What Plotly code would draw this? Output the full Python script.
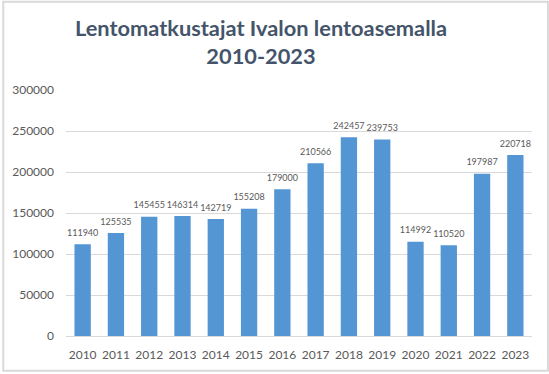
import plotly.graph_objects as go

years = ["2010", "2011", "2012", "2013", "2014", "2015", "2016", "2017", "2018", "2019", "2020", "2021", "2022", "2023"]
passengers = [111940, 125535, 145455, 146314, 142719, 155208, 179000, 210566, 242457, 239753, 114992, 110520, 197987, 220718]
y_ticks = [0, 50000, 100000, 150000, 200000, 250000, 300000]

W, H = 549, 374
ml, mr, mt, mb = 64, 17, 90, 36
pw, ph = W - ml - mr, H - mt - mb
FONT = "Lato, Carlito, sans-serif"

fig = go.Figure()
fig.add_trace(go.Bar(
    x=years, y=passengers,
    marker=dict(color="#5495d4", line=dict(width=0)),
    hoverinfo="x+y",
))
fig.add_trace(go.Scatter(
    x=years, y=passengers, mode="markers+text",
    text=[str(v) for v in passengers], textposition="top center",
    marker=dict(size=8, color="rgba(0,0,0,0)"),
    textfont=dict(family=FONT, size=9, color="#595959"),
    hoverinfo="skip", cliponaxis=False,
))

fig.update_layout(
    width=W, height=H,
    margin=dict(l=ml, r=mr, t=mt, b=mb),
    paper_bgcolor="white", plot_bgcolor="white",
    bargap=0.51,
    showlegend=False,
    title=dict(
        text="<b>Lentomatkustajat Ivalon lentoasemalla<br>2010-2023</b>",
        x=261 / W, xanchor="center", y=1 - 36 / H, yanchor="middle",
        font=dict(family=FONT, size=21.8, color="#44546a"),
    ),
    xaxis=dict(
        type="category", range=[-0.5, len(years) - 0.5],
        tickfont=dict(family=FONT, size=12, color="#595959"),
        showgrid=False, showline=True, linecolor="#d9d9d9", linewidth=1,
        ticks="", ticklabelstandoff=8,
    ),
    yaxis=dict(
        range=[0, 300000], tickvals=y_ticks, ticktext=[str(v) for v in y_ticks],
        tickfont=dict(family=FONT, size=12, color="#595959"),
        showgrid=True, gridcolor="#d9d9d9", gridwidth=1, zeroline=False,
        showline=False, ticks="", ticklabelstandoff=11,
    ),
    shapes=[dict(
        type="rect", xref="paper", yref="paper",
        x0=(1 - ml) / pw, x1=(W - ml - 1) / pw,
        y0=-(mb - 1) / ph, y1=(H - mb - 1) / ph,
        line=dict(color="#d9d9d9", width=2), fillcolor="rgba(0,0,0,0)", layer="below",
    )],
)

fig.write_html(
    "out.html",
    config={"displayModeBar": False},
    post_script="document.body.style.margin='0';document.body.style.overflow='hidden';",
)
